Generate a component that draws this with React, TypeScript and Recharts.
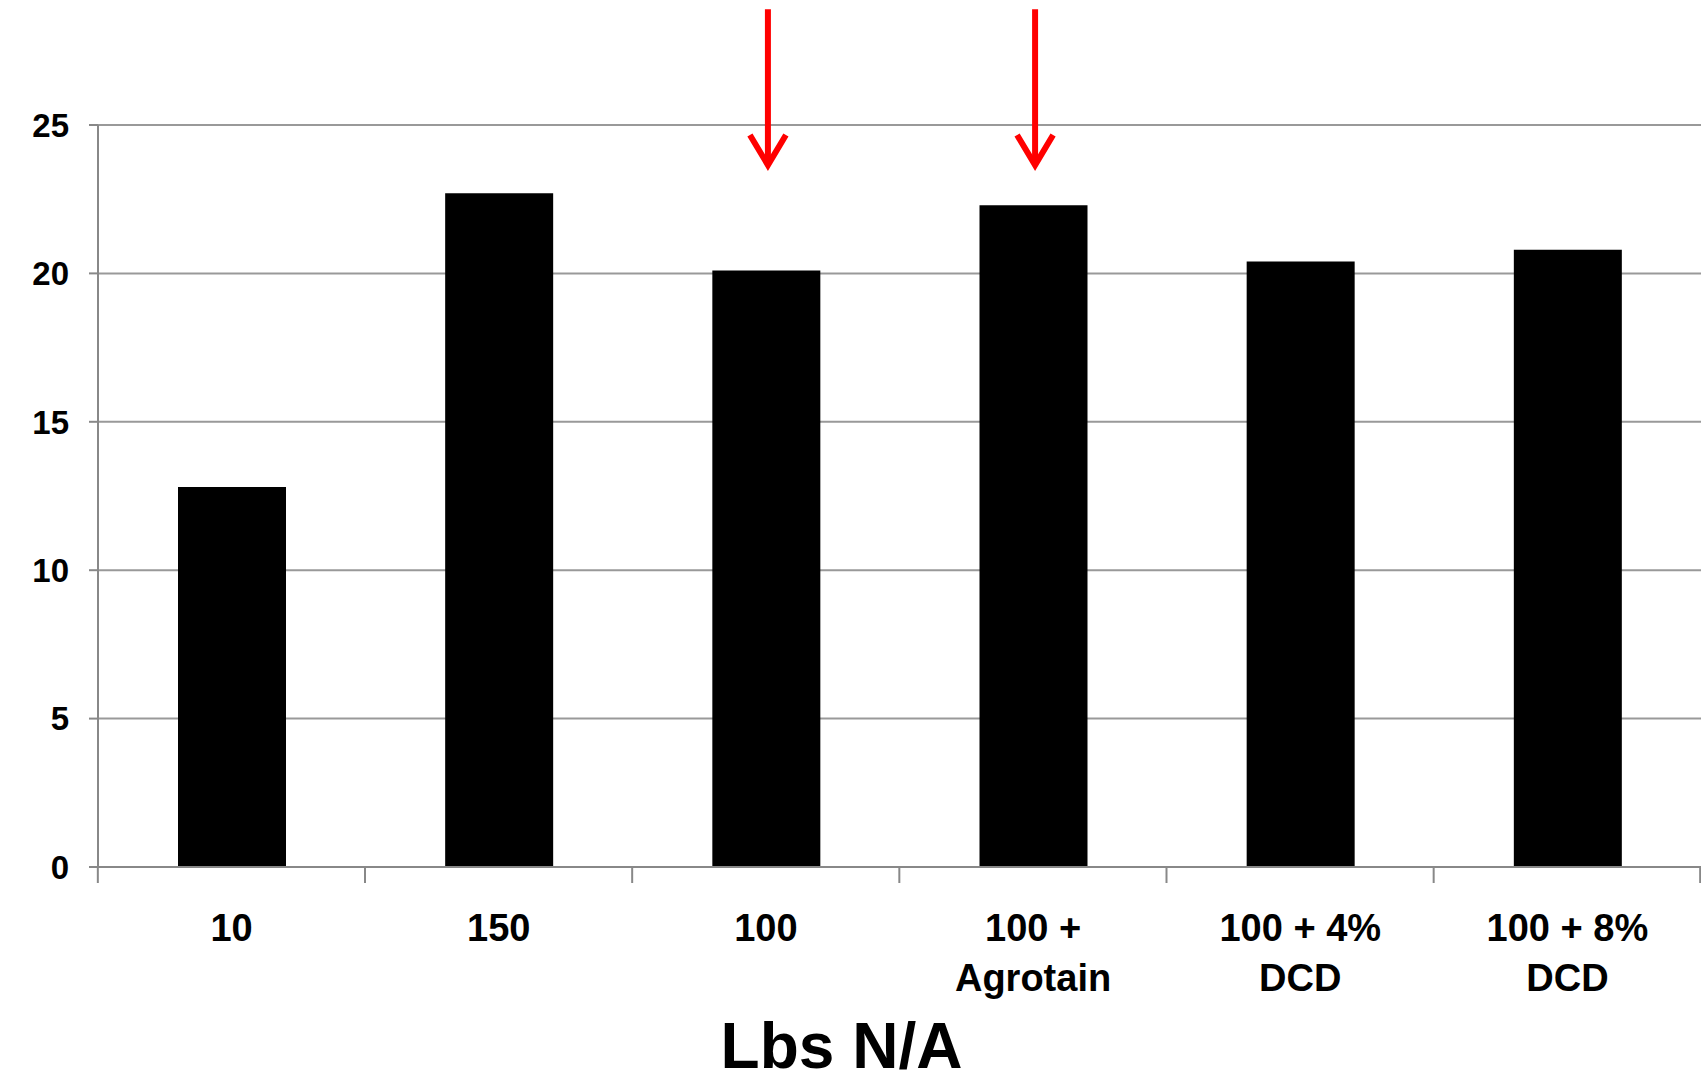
import { BarChart, Bar, XAxis, YAxis, CartesianGrid, ReferenceLine, Label } from "recharts";

const categories = ["10", "150", "100", "100 +\nAgrotain", "100 + 4%\nDCD", "100 + 8%\nDCD"];
const values = [12.8, 22.7, 20.1, 22.3, 20.4, 20.8];
const yTicks = [0, 5, 10, 15, 20, 25];
const arrowCats = ["100", "100 +\nAgrotain"];

const data = categories.map((c, i) => ({ name: c, v: values[i] }));
const BAND = 267.5;

const XTick = (props: any) => {
  const { x, y, payload, index } = props;
  const lines = String(payload.value).split("\n");
  return (
    <g>
      <line x1={x - BAND / 2} x2={x - BAND / 2} y1={y - 8} y2={y + 8} stroke="#888" strokeWidth={2} />
      {index === categories.length - 1 && (
        <line x1={x + BAND / 2 - 1} x2={x + BAND / 2 - 1} y1={y - 8} y2={y + 8} stroke="#888" strokeWidth={2} />
      )}
      {lines.map((l, i) => (
        <text key={i} x={x} y={y + 66 + i * 50} textAnchor="middle" fontSize={38} fontWeight="bold" fill="#000">
          {l}
        </text>
      ))}
    </g>
  );
};

const Arrow = (props: any) => {
  const { x1, y1, y2 } = props;
  if (x1 == null) return null;
  return (
    <g>
      <line x1={x1 + 2} x2={x1 + 2} y1={y1} y2={y2} stroke="#ff0000" strokeWidth={6} />
      <polyline points={`${x1 - 16},${y2 - 30} ${x1 + 2},${y2} ${x1 + 20},${y2 - 30}`} fill="none" stroke="#ff0000" strokeWidth={6} />
    </g>
  );
};

export default function App() {
  return (
    <div style={{ position: "absolute", left: 0, top: 0, background: "#fff", fontFamily: "'Liberation Sans', Arial, sans-serif" }}>
      <BarChart width={1701} height={1087} data={data} margin={{ top: 125, right: 0, left: 0, bottom: 190 }} barCategoryGap={80}>
        <CartesianGrid vertical={false} stroke="#999" strokeWidth={2} />
        <XAxis dataKey="name" interval={0} stroke="#888" strokeWidth={2} tickLine={false} tick={<XTick />}>
          <Label value="Lbs N/A" position="bottom" offset={126} dx={-58} fontSize={64} fontWeight="bold" fill="#000" />
        </XAxis>
        <YAxis
          width={98}
          domain={[0, 25]}
          ticks={yTicks}
          stroke="#888"
          strokeWidth={2}
          tickSize={9}
          tickMargin={20}
          tick={{ fontSize: 33, fontWeight: "bold", fill: "#000" }}
        />
        <Bar dataKey="v" fill="#000" barSize={108} isAnimationActive={false} />
        {arrowCats.map((c) => (
          <ReferenceLine
            key={c}
            segment={[{ x: c, y: 28.9 }, { x: c, y: 23.65 }]}
            ifOverflow="visible"
            shape={<Arrow />}
          />
        ))}
      </BarChart>
    </div>
  );
}
